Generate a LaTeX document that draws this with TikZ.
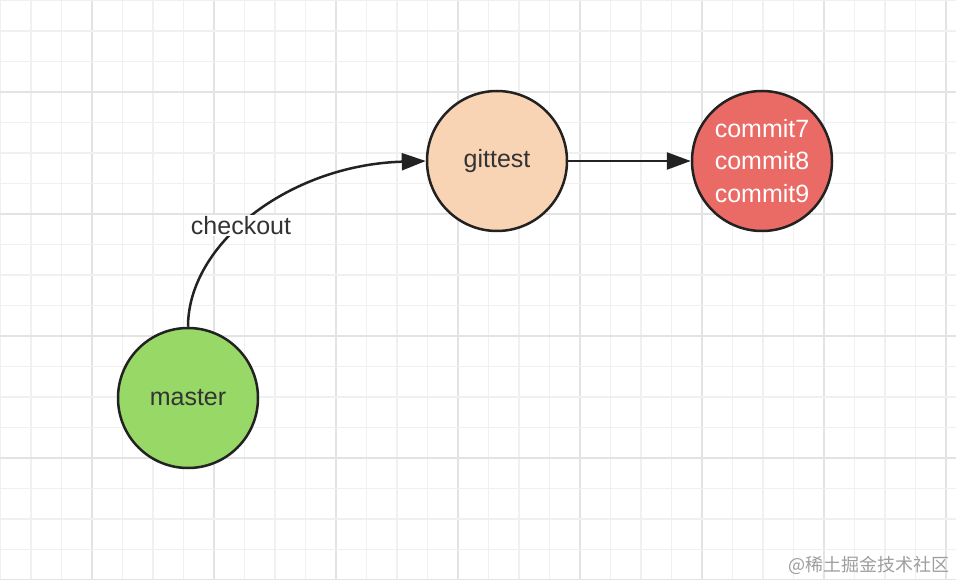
\documentclass[tikz,border=0pt]{standalone}
\usepackage{fontspec}
\setmainfont{Liberation Sans}
\newfontfamily\cjk{Noto Sans CJK SC}
\usetikzlibrary{arrows.meta}
\definecolor{gridminor}{HTML}{F0F0F0}
\definecolor{gridmajor}{HTML}{E3E3E3}
\definecolor{peach}{HTML}{F9D4B4}
\definecolor{redfill}{HTML}{EA6B66}
\definecolor{greenfill}{HTML}{97D866}
\definecolor{inkc}{HTML}{222222}
\definecolor{txt}{HTML}{333333}
\tikzset{
  branch/.style={circle, draw=inkc, line width=2.5pt, minimum size=140pt, inner sep=0pt,
    font=\fontsize{25}{32.5}\selectfont, text=txt, align=center},
  conn/.style={draw=inkc, line width=2.5pt, -{Triangle[length=24pt,width=17pt]}},
  elabel/.style={fill=white, inner sep=1.5pt, text=txt, font=\fontsize{25}{30}\selectfont},
}
\begin{document}
\begin{tikzpicture}[x=1pt,y=-1pt]
\useasboundingbox (0,0) rectangle (956,580);
\fill[white] (0,0) rectangle (956,580);
\foreach \k in {0,...,31} {
  \pgfmathsetmacro{\p}{0.5+30.5*\k}
  \pgfmathtruncatemacro{\m}{mod(\k,4)}
  \ifnum\m=3
    \draw[gridmajor, line width=1.8pt] (\p,0) -- (\p,580);
  \else
    \draw[gridminor, line width=1.6pt] (\p,0) -- (\p,580);
  \fi
}
\foreach \k in {0,...,19} {
  \pgfmathsetmacro{\p}{0.5+30.5*\k}
  \pgfmathtruncatemacro{\m}{mod(\k,4)}
  \ifnum\m=3
    \draw[gridmajor, line width=1.8pt] (0,\p) -- (956,\p);
  \else
    \draw[gridminor, line width=1.6pt] (0,\p) -- (956,\p);
  \fi
}
\node[branch, fill=peach] (gittest) at (497,161) {gittest};
\node[branch, fill=redfill, text=white] (commits) at (762,161) {commit7\\commit8\\commit9};
\node[branch, fill=greenfill] (master) at (188,398) {master};
\draw[conn] (gittest.east) -- (commits.west);
\draw[conn] (master.north) .. controls +(0,-83) and +(-137,4) .. (gittest.west)
  node[elabel, pos=0.44] (lbl) {checkout};
\node[anchor=east, text=black!38, font=\cjk\fontsize{18}{20}\selectfont] (wm) at (953,565) {@稀土掘金技术社区};
\end{tikzpicture}
\end{document}
